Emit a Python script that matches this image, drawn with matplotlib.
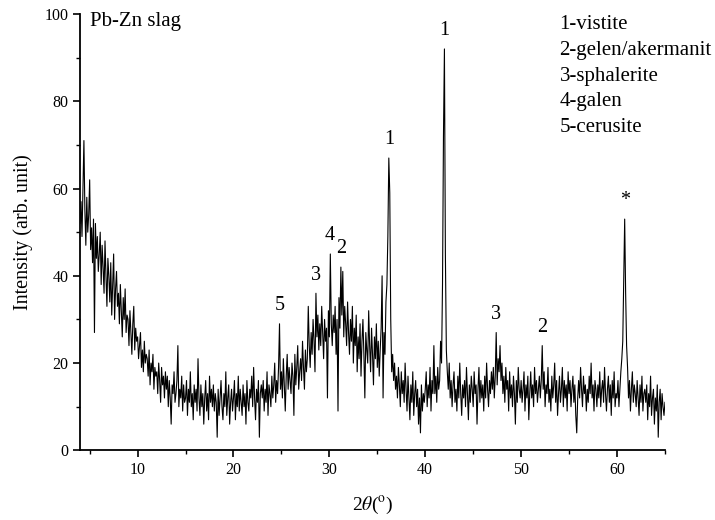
import numpy as np
import matplotlib
matplotlib.use('Agg')
import matplotlib.pyplot as plt
from matplotlib.ticker import MultipleLocator

plt.rcParams['font.family'] = ['Liberation Serif', 'DejaVu Serif']
plt.rcParams['mathtext.fontset'] = 'stix'

# scan grid: 4.0 .. 65.0 deg, step 0.1
scan_start = 4.0
scan_step = 0.1

# intensity, one row per degree (x.0 .. x.9)
intensity = [
    52, 57, 49, 60, 71, 55, 47, 58, 50, 54,   # 4
    62, 46, 51, 43, 53, 27, 52, 44, 49, 41,   # 5
    45, 50, 38, 47, 42, 36, 48, 40, 33, 44,   # 6
    40, 34, 43, 31, 38, 45, 30, 37, 41, 33,   # 7
    36, 29, 38, 32, 26, 35, 30, 37, 27, 31,   # 8
    30, 24, 32, 27, 22, 29, 33, 23, 28, 25,   # 9
    26, 21, 24, 27, 19, 23, 18, 25, 20, 22,   # 10
    21, 17, 23, 15, 20, 18, 22, 14, 19, 17,   # 11
    18, 13, 20, 16, 11, 19, 15, 17, 12, 18,   # 12
    14, 17, 10, 16, 12, 6, 15, 13, 18, 11,    # 13
    13, 16, 24, 10, 14, 12, 17, 9, 15, 11,    # 14
    12, 16, 8, 14, 11, 18, 10, 13, 7, 15,     # 15
    11, 14, 9, 21, 12, 8, 15, 10, 13, 6,      # 16
    12, 16, 9, 13, 7, 17, 11, 14, 10, 15,     # 17
    9, 13, 11, 3, 14, 8, 12, 16, 10, 7,       # 18
    13, 10, 18, 8, 12, 15, 6, 11, 14, 9,      # 19
    12, 16, 7, 13, 10, 17, 9, 14, 11, 8,      # 20
    15, 10, 13, 6, 16, 11, 9, 14, 12, 17,     # 21
    10, 19, 12, 7, 14, 11, 16, 3, 13, 15,     # 22
    12, 16, 9, 14, 11, 18, 8, 15, 13, 10,     # 23
    17, 12, 15, 20, 11, 16, 13, 19, 29, 14,   # 24
    18, 12, 21, 15, 9, 17, 22, 14, 19, 16,    # 25
    13, 20, 17, 8, 22, 15, 19, 24, 14, 18,    # 26
    21, 16, 25, 19, 14, 23, 18, 21, 33, 24,   # 27
    19, 27, 22, 30, 25, 18, 36, 26, 31, 23,   # 28
    29, 24, 33, 27, 21, 30, 25, 28, 12, 32,   # 29
    26, 45, 29, 24, 31, 27, 33, 22, 30, 9,    # 30
    35, 28, 42, 31, 41, 26, 33, 29, 24, 34,   # 31
    27, 22, 30, 25, 33, 20, 28, 24, 31, 18,   # 32
    26, 21, 29, 17, 25, 30, 22, 12, 27, 23,   # 33
    20, 32, 24, 18, 28, 22, 15, 26, 21, 29,   # 34
    19, 25, 17, 23, 28, 40, 12, 27, 22, 34,   # 35
    38, 49, 67, 59, 30, 18, 22, 16, 20, 14,   # 36
    17, 12, 19, 15, 10, 18, 13, 16, 11, 20,   # 37
    14, 9, 17, 12, 7, 15, 11, 18, 8, 13,      # 38
    16, 10, 14, 6, 12, 4, 15, 9, 13, 11,      # 39
    14, 18, 10, 15, 12, 19, 9, 16, 13, 24,    # 40
    13, 17, 11, 19, 14, 16, 25, 20, 38, 72,   # 41
    92, 45, 23, 18, 14, 20, 12, 16, 10, 15,   # 42
    18, 11, 14, 9, 17, 12, 20, 13, 8, 15,     # 43
    12, 16, 10, 19, 13, 7, 15, 11, 17, 14,    # 44
    10, 18, 13, 15, 6, 14, 19, 11, 16, 12,    # 45
    15, 9, 17, 12, 20, 14, 10, 16, 13, 18,    # 46
    14, 19, 12, 17, 27, 15, 21, 18, 24, 16,   # 47
    20, 13, 17, 11, 19, 14, 16, 9, 18, 12,    # 48
    15, 10, 17, 13, 6, 16, 11, 19, 14, 12,    # 49
    16, 11, 14, 18, 9, 15, 12, 17, 7, 13,     # 50
    18, 12, 15, 10, 19, 13, 16, 11, 14, 17,   # 51
    12, 16, 24, 14, 18, 10, 15, 13, 19, 11,   # 52
    14, 9, 17, 12, 15, 20, 11, 16, 8, 13,     # 53
    17, 11, 14, 19, 10, 16, 12, 15, 9, 18,    # 54
    13, 16, 10, 14, 17, 11, 15, 8, 4, 12,     # 55
    16, 12, 19, 14, 10, 17, 13, 15, 9, 14,    # 56
    11, 17, 13, 20, 12, 15, 9, 16, 14, 10,    # 57
    15, 12, 18, 10, 14, 16, 11, 19, 13, 9,    # 58
    14, 17, 11, 15, 8, 16, 12, 18, 10, 13,    # 59
    12, 16, 10, 14, 18, 21, 25, 39, 53, 36,   # 60
    24, 19, 12, 16, 9, 14, 18, 11, 15, 13,    # 61
    10, 16, 12, 8, 15, 11, 17, 9, 13, 14,     # 62
    11, 15, 7, 13, 10, 17, 8, 12, 14, 6,      # 63
    12, 9, 15, 3, 11, 14, 7, 13, 10, 8,       # 64
    11,                                       # 65.0
]

# peak labels: (text, 2theta, y)
peak_labels = ['5', '3', '4', '2', '1', '1', '3', '2', '*']
peak_pos = [24.8, 28.6, 30.0, 31.2, 36.2, 42.0, 47.4, 52.2, 60.8]
peak_y = [31, 38, 47, 44, 69, 94, 29, 26, 55]

phases = ['1-vistite', '2-gelen/akermanit', '3-sphalerite', '4-galen', '5-cerusite']

two_theta = scan_start + scan_step * np.arange(len(intensity))

fig = plt.figure(figsize=(7.15, 5.2), dpi=100)
ax = fig.add_axes([0.112, 0.134, 0.818, 0.839])
ax.plot(two_theta, intensity, color='black', lw=0.8)

ax.set_xlim(4, 65)
ax.set_ylim(0, 100)
ax.xaxis.set_major_locator(MultipleLocator(10))
ax.xaxis.set_minor_locator(MultipleLocator(5))
ax.yaxis.set_major_locator(MultipleLocator(20))
ax.yaxis.set_minor_locator(MultipleLocator(10))
ax.tick_params(which='major', direction='out', length=5, width=1.2, labelsize=11.5)
ax.tick_params(which='minor', direction='out', length=3, width=1.0)
ax.spines['top'].set_visible(False)
ax.spines['right'].set_visible(False)
ax.spines['left'].set_linewidth(1.3)
ax.spines['bottom'].set_linewidth(1.3)

ax.set_xlabel(r'2$\theta$($^{\rm o}$)', fontsize=14, labelpad=12)
ax.set_ylabel('Intensity (arb. unit)', fontsize=14.5, labelpad=8)

for lab, px, py in zip(peak_labels, peak_pos, peak_y):
    ax.text(px, py, lab, ha='center', va='bottom', fontsize=14.5)

ax.text(5.0, 97.2, 'Pb-Zn slag', ha='left', va='baseline', fontsize=15)
for i, ph in enumerate(phases):
    ax.text(54.0, 96.6 - i * 5.92, ph, ha='left', va='baseline', fontsize=15)

fig.savefig('out.png', dpi=100)
